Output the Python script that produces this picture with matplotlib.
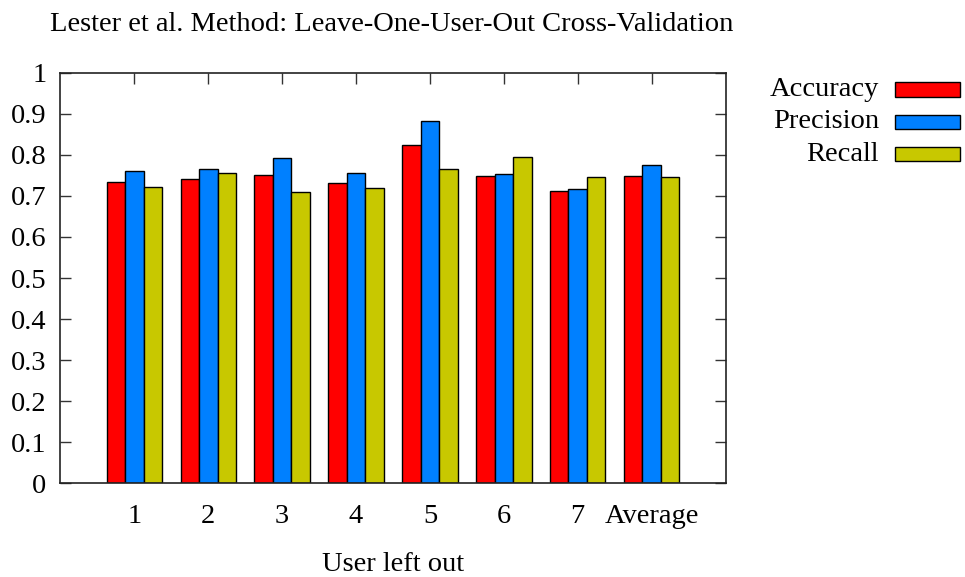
import matplotlib
matplotlib.use("Agg")
import matplotlib.pyplot as plt
import numpy as np
from matplotlib.patches import Rectangle

categories = ["1", "2", "3", "4", "5", "6", "7", "Average"]
series_names = ["Accuracy", "Precision", "Recall"]
accuracy = [0.733, 0.741, 0.751, 0.731, 0.824, 0.748, 0.712, 0.748]
precision = [0.760, 0.765, 0.792, 0.755, 0.882, 0.754, 0.717, 0.775]
recall = [0.722, 0.756, 0.709, 0.720, 0.765, 0.794, 0.747, 0.745]
colors = ["#ff0000", "#0080ff", "#c8c800"]
yticks = [0, 0.1, 0.2, 0.3, 0.4, 0.5, 0.6, 0.7, 0.8, 0.9, 1]

plt.rcParams['font.family'] = ['Liberation Serif', 'DejaVu Serif']
FS = 20.5
W, H = 965, 577
fig = plt.figure(figsize=(W / 100, H / 100), dpi=100)
left, right, top, bottom = 60.5, 725.5, 72.7, 483.3
ax = fig.add_axes([left / W, 1 - bottom / H, (right - left) / W, (bottom - top) / H])

x = np.arange(1, len(categories) + 1)
bw = 0.25
for i, (vals, c) in enumerate(zip([accuracy, precision, recall], colors)):
    ax.bar(x + (i - 1) * bw, vals, width=bw, color=c, edgecolor='black', linewidth=1.0, zorder=2)

ax.set_xlim(0, 9)
ax.set_ylim(0, 1)
ax.set_yticks(yticks)
ax.set_yticklabels([f"{t:g}" for t in yticks])
ax.set_xticks(x)
ax.set_xticklabels(categories)
ax.tick_params(axis='both', direction='in', length=8, width=1, labelsize=FS,
               top=True, right=True, color='#333333')
ax.tick_params(axis='x', pad=15, bottom=False)
ax.tick_params(axis='y', pad=10)
for s in ax.spines.values():
    s.set_linewidth(1.2)
    s.set_color('#222222')

fig.text(392 / W, 1 - 31 / H, "Lester et al. Method: Leave-One-User-Out Cross-Validation",
         ha='center', va='baseline', fontsize=FS)
fig.text(393 / W, 1 - 570.7 / H, "User left out", ha='center', va='baseline', fontsize=FS)

# legend
row_y = [89.5, 121.8, 154.2]
for name, c, yy in zip(series_names, colors, row_y):
    fig.text(879 / W, 1 - (yy + 6.5) / H, name, ha='right', va='baseline', fontsize=FS)
    fig.patches.append(Rectangle((895 / W, 1 - (yy + 7.2) / H), 65 / W, 14.4 / H,
                                 transform=fig.transFigure, facecolor=c,
                                 edgecolor='black', linewidth=1.0))

fig.savefig("out.png", dpi=100)
